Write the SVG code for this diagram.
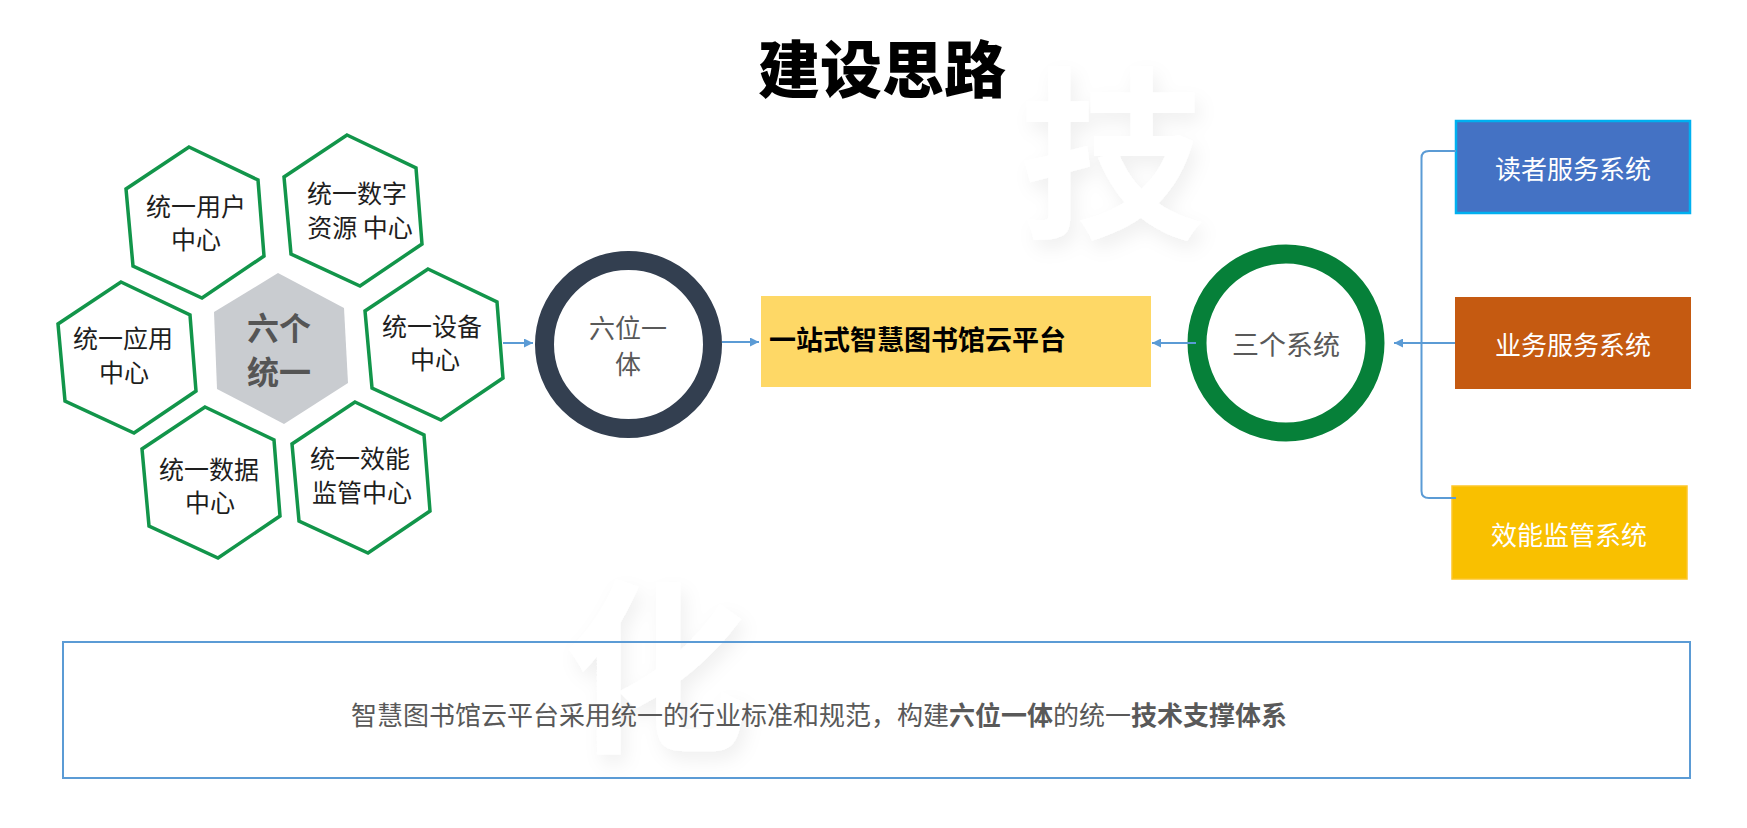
<svg xmlns="http://www.w3.org/2000/svg" xmlns:xlink="http://www.w3.org/1999/xlink" width="1747" height="828" viewBox="0 0 1747 828">
<style>
.t{font-family:"Noto Sans CJK SC","Noto Sans",sans-serif;dominant-baseline:central;text-anchor:middle}
.hx{font-size:25px;fill:#1e1e1e}
.hex{fill:#fff;stroke:#12954a;stroke-width:3.5;stroke-linejoin:miter}
.wm{font-family:"Noto Sans CJK SC",sans-serif;font-weight:700;fill:#fff;filter:url(#wmf);dominant-baseline:central;text-anchor:middle}
.sys{font-size:26px;fill:#fff}
.conn{fill:none;stroke:#5b9bd5;stroke-width:2}
</style>
<defs>
<filter id="wmf" x="-30%" y="-30%" width="160%" height="160%">
<feGaussianBlur in="SourceAlpha" stdDeviation="9"/>
<feOffset dx="5" dy="9" result="b"/>
<feFlood flood-color="#000" flood-opacity="0.06"/>
<feComposite in2="b" operator="in"/>
<feMerge><feMergeNode/><feMergeNode in="SourceGraphic"/></feMerge>
</filter>
<path id="hexShape" d="M0,0 L69,33 L75,109 L13,151 L-56,119 L-63,42 Z"/>
<marker id="arr" viewBox="0 0 10 10" refX="10" refY="5" markerWidth="10" markerHeight="9" markerUnits="userSpaceOnUse" orient="auto">
<path d="M0,0 L10,5 L0,10 Z" fill="#5b9bd5"/>
</marker>
</defs>
<rect width="1747" height="828" fill="#fff"/>

<g id="watermark">
<text class="wm" x="1112" y="143" font-size="185">技</text>
<text class="wm" x="656" y="657" font-size="185">化</text>
</g>

<g id="title">
<text class="t" x="882" y="66" font-size="62" font-weight="900" fill="#000">建设思路</text>
</g>

<g id="hex-center">
<polygon points="278,273 344,308 348,383 284,424 217,389 214,312" fill="#c9ccd0"/>
<text class="t" font-size="32" font-weight="700" fill="#555"><tspan x="279" y="326">六个</tspan><tspan x="279" y="370">统一</tspan></text>
</g>

<g id="hex-user">
<use xlink:href="#hexShape" href="#hexShape" class="hex" x="189" y="147"/>
<text class="t hx"><tspan x="196" y="205">统一用户</tspan><tspan x="196" y="238">中心</tspan></text>
</g>

<g id="hex-resource">
<use xlink:href="#hexShape" href="#hexShape" class="hex" x="347" y="135"/>
<text class="t hx"><tspan x="357" y="192">统一数字</tspan><tspan x="360" y="226">资源 中心</tspan></text>
</g>

<g id="hex-app">
<use xlink:href="#hexShape" href="#hexShape" class="hex" x="121" y="282"/>
<text class="t hx"><tspan x="123" y="337">统一应用</tspan><tspan x="124" y="371">中心</tspan></text>
</g>

<g id="hex-device">
<use xlink:href="#hexShape" href="#hexShape" class="hex" x="428" y="269"/>
<text class="t hx"><tspan x="432" y="325">统一设备</tspan><tspan x="435" y="358">中心</tspan></text>
</g>

<g id="hex-data">
<use xlink:href="#hexShape" href="#hexShape" class="hex" x="205" y="407"/>
<text class="t hx"><tspan x="209" y="468">统一数据</tspan><tspan x="210" y="501">中心</tspan></text>
</g>

<g id="hex-perf">
<use xlink:href="#hexShape" href="#hexShape" class="hex" x="355" y="402"/>
<text class="t hx"><tspan x="360" y="457">统一效能</tspan><tspan x="362" y="491">监管中心</tspan></text>
</g>

<g id="ring-six">
<circle cx="628.5" cy="344.5" r="84" fill="#fff" stroke="#333f50" stroke-width="19"/>
<text class="t" font-size="26" fill="#595959"><tspan x="628" y="326">六位一</tspan><tspan x="628" y="362">体</tspan></text>
</g>

<g id="platform">
<rect x="761" y="296" width="390" height="91" fill="#fed866"/>
<text class="t" x="769" y="338" font-size="27" font-weight="700" fill="#000" style="text-anchor:start">一站式智慧图书馆云平台</text>
</g>

<g id="ring-three">
<circle cx="1286" cy="343" r="89" fill="#fff" stroke="#068039" stroke-width="19"/>
<text class="t" x="1286" y="343" font-size="27" fill="#595959">三个系统</text>
</g>

<g id="sys-reader">
<rect x="1456" y="121" width="234" height="92" fill="#4472c4" stroke="#00b0f0" stroke-width="2.5"/>
<text class="t sys" x="1573" y="167">读者服务系统</text>
</g>

<g id="sys-business">
<rect x="1455" y="297" width="236" height="92" fill="#c55a11"/>
<text class="t sys" x="1573" y="343">业务服务系统</text>
</g>

<g id="sys-perf">
<rect x="1452" y="486" width="235" height="93" fill="#f9c000" stroke="#fdc62a" stroke-width="1.5"/>
<text class="t sys" x="1569" y="533">效能监管系统</text>
</g>

<g id="connectors">
<line class="conn" x1="503" y1="343" x2="533" y2="343" marker-end="url(#arr)"/>
<line class="conn" x1="722" y1="342" x2="759" y2="342" marker-end="url(#arr)"/>
<line class="conn" x1="1196" y1="343" x2="1152" y2="343" marker-end="url(#arr)"/>
<line class="conn" x1="1455" y1="343" x2="1394" y2="343" marker-end="url(#arr)"/>
<path class="conn" d="M1456,151 L1429,151 Q1421.5,151 1421.5,158 L1421.5,491 Q1421.5,498 1429,498 L1456,498"/>
</g>

<g id="summary">
<rect x="63" y="642" width="1627" height="136" fill="none" stroke="#5b9bd5" stroke-width="2"/>
<text class="t" x="819" y="713" font-size="26" fill="#595959">智慧图书馆云平台采用统一的行业标准和规范，构建<tspan font-weight="700">六位一体</tspan>的统一<tspan font-weight="700">技术支撑体系</tspan></text>
</g>
</svg>
